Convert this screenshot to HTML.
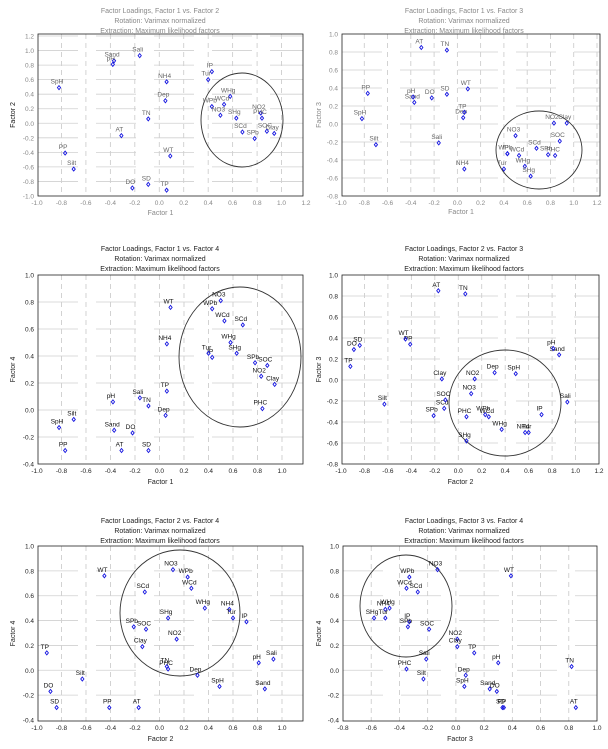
<!DOCTYPE html>
<html><head><meta charset="utf-8"><style>
html,body{margin:0;padding:0;background:#fff;}
svg{display:block;font-family:"Liberation Sans",sans-serif;}
</style></head><body>
<svg id="chart" width="608" height="749" viewBox="0 0 608 749"></svg>
<script>
const variables=["Sali","Sand","pH","SpH","NH4","IP","Tur","Dep","TN","AT","PP","Silt","WT","DO","SD","TP","WHg","WCd","WPb","NO3","SHg","NO2","PHC","SCd","SPb","SOC","Clay"];
const factor1=[-0.16,-0.37,-0.38,-0.82,0.06,0.43,0.40,0.05,-0.09,-0.31,-0.77,-0.70,0.09,-0.22,-0.09,0.06,0.58,0.53,0.43,0.50,0.63,0.83,0.84,0.68,0.78,0.88,0.94];
const factor2=[0.93,0.86,0.81,0.49,0.57,0.71,0.60,0.31,0.06,-0.17,-0.41,-0.63,-0.45,-0.89,-0.84,-0.92,0.37,0.26,0.23,0.11,0.07,0.14,0.07,-0.12,-0.21,-0.11,-0.14];
const factor3=[-0.21,0.24,0.30,0.06,-0.50,-0.33,-0.50,0.07,0.82,0.85,0.34,-0.23,0.39,0.29,0.33,0.13,-0.47,-0.35,-0.33,-0.13,-0.58,0.01,-0.35,-0.27,-0.34,-0.19,0.01];
const factor4=[0.09,-0.15,0.06,-0.13,0.49,0.39,0.42,-0.04,0.03,-0.30,-0.30,-0.07,0.76,-0.17,-0.30,0.14,0.50,0.66,0.75,0.81,0.42,0.25,0.01,0.63,0.35,0.33,0.19];
const factors={1:factor1,2:factor2,3:factor3,4:factor4};
const panels=[
 {fx:1,fy:2,x0:-1.0,x1:1.2,px0:37,px1:306,y0:-1.0,y1:1.2,py0:196,py1:36,xt:[-1.0,-0.8,-0.6,-0.4,-0.2,0.0,0.2,0.4,0.6,0.8,1.0,1.2],yt:[-1.0,-0.8,-0.6,-0.4,-0.2,0.0,0.2,0.4,0.6,0.8,1.0,1.2],fl:38,fr:303,ft:34,fb:196,cx:242,cy:120,rx:41,ry:47,tx:160,ty:8,tc:"#888",xl:215,yl:15,ycl:"#111"},
 {fx:1,fy:3,x0:-1.0,x1:1.2,px0:341,px1:597,y0:-0.8,y1:1.0,py0:196,py1:34,xt:[-1.0,-0.8,-0.6,-0.4,-0.2,0.0,0.2,0.4,0.6,0.8,1.0,1.2],yt:[-0.8,-0.6,-0.4,-0.2,0.0,0.2,0.4,0.6,0.8,1.0],fl:342,fr:600,ft:34,fb:196,cx:539,cy:150,rx:43,ry:39,tx:464,ty:8,tc:"#888",xl:214,yl:321,ycl:"#888"},
 {fx:1,fy:4,x0:-1.0,x1:1.0,px0:37,px1:282,y0:-0.4,y1:1.0,py0:464,py1:275,xt:[-1.0,-0.8,-0.6,-0.4,-0.2,0.0,0.2,0.4,0.6,0.8,1.0],yt:[-0.4,-0.2,0.0,0.2,0.4,0.6,0.8,1.0],fl:38,fr:303,ft:275,fb:464,cx:240,cy:357,rx:61,ry:70,tx:160,ty:246,tc:"#222",xl:484,yl:15,ycl:"#222"},
 {fx:2,fy:3,x0:-1.0,x1:1.2,px0:341,px1:599,y0:-0.8,y1:1.0,py0:464,py1:275,xt:[-1.0,-0.8,-0.6,-0.4,-0.2,0.0,0.2,0.4,0.6,0.8,1.0,1.2],yt:[-0.8,-0.6,-0.4,-0.2,0.0,0.2,0.4,0.6,0.8,1.0],fl:342,fr:599,ft:275,fb:464,cx:505,cy:403,rx:56,ry:53,tx:464,ty:246,tc:"#222",xl:484,yl:321,ycl:"#222"},
 {fx:2,fy:4,x0:-1.0,x1:1.0,px0:37,px1:282,y0:-0.4,y1:1.0,py0:720,py1:546,xt:[-1.0,-0.8,-0.6,-0.4,-0.2,0.0,0.2,0.4,0.6,0.8,1.0],yt:[-0.4,-0.2,0.0,0.2,0.4,0.6,0.8,1.0],fl:38,fr:303,ft:546,fb:721,cx:180,cy:613,rx:60,ry:63,tx:160,ty:518,tc:"#222",xl:741,yl:15,ycl:"#222"},
 {fx:3,fy:4,x0:-0.8,x1:1.0,px0:343,px1:597,y0:-0.4,y1:1.0,py0:720,py1:546,xt:[-0.8,-0.6,-0.4,-0.2,0.0,0.2,0.4,0.6,0.8,1.0],yt:[-0.4,-0.2,0.0,0.2,0.4,0.6,0.8,1.0],fl:343,fr:597,ft:546,fb:721,cx:406,cy:606,rx:46,ry:51,tx:464,ty:518,tc:"#222",xl:741,yl:321,ycl:"#222"}
];
const NS="http://www.w3.org/2000/svg";
const svg=document.getElementById("chart");
function mk(tag,attrs,parent){const e=document.createElementNS(NS,tag);for(const k in attrs)e.setAttribute(k,attrs[k]);(parent||svg).appendChild(e);return e;}
panels.forEach((p,i)=>{
 const g=mk("g",{});
 
 
 const sx=v=>p.px0+(v-p.x0)/(p.x1-p.x0)*(p.px1-p.px0);
 const sy=v=>p.py0+(v-p.y0)/(p.y1-p.y0)*(p.py1-p.py0);
 const titles=["Factor Loadings, Factor "+p.fx+" vs. Factor "+p.fy,"Rotation: Varimax normalized","Extraction: Maximum likelihood factors"];
 titles.forEach((t,k)=>{const e=mk("text",{x:p.tx,y:p.ty+k*10+5,"font-size":"7","text-anchor":"middle",fill:p.tc},g);e.textContent=t;
  
  });
 p.xt.forEach(v=>{const x=sx(v);
  if(x>p.fl+1&&x<p.fr-1){const l=mk("line",{x1:x,x2:x,y1:p.ft,y2:p.fb,stroke:"#c8c8c8","stroke-width":"0.8","stroke-dasharray":"5,4"},g);
   
   }
  const t=mk("text",{x:x,y:p.fb+9,"font-size":"6.5","text-anchor":"middle",fill:p.tc},g);t.textContent=v.toFixed(1);
  
  });
 p.yt.forEach(v=>{const y=sy(v);
  if(y>p.ft+1&&y<p.fb-1){const l=mk("line",{x1:p.fl,x2:p.fr,y1:y,y2:y,stroke:"#d0d0d0","stroke-width":"0.8","stroke-dasharray":"40,18"},g);
   
   }
  const t=mk("text",{x:p.fl-4,y:y+2.5,"font-size":"6.5","text-anchor":"end",fill:p.tc},g);t.textContent=v.toFixed(1);
  
  });
 const fr=mk("rect",{x:p.fl,y:p.ft,width:p.fr-p.fl,height:p.fb-p.ft,fill:"none",stroke:"#222","stroke-width":"0.8"},g);
 
 
 const xl=mk("text",{x:(p.fl+p.fr)/2-10,y:p.xl,"font-size":"7","text-anchor":"middle",fill:p.tc},g);xl.textContent="Factor "+p.fx;
 
 
 const yc=(p.ft+p.fb)/2;
 const yl=mk("text",{x:p.yl,y:yc,"font-size":"7","text-anchor":"middle",fill:p.ycl,transform:"rotate(-90 "+p.yl+" "+yc+")"},g);yl.textContent="Factor "+p.fy;
 
 
 const el=mk("ellipse",{cx:p.cx,cy:p.cy,rx:p.rx,ry:p.ry,fill:"none",stroke:"#333","stroke-width":"0.9"},g);
 
 
 const X=factors[p.fx],Y=factors[p.fy];
 variables.forEach((n,j)=>{const x=sx(X[j]),y=sy(Y[j]);
  const d=mk("path",{d:`M${x} ${y-2}L${x+1.6} ${y}L${x} ${y+2}L${x-1.6} ${y}Z`,fill:"none",stroke:"#1515e0","stroke-width":"0.9"},g);
  
  
  const t=mk("text",{x:x-2,y:y-4,"font-size":"6.5","text-anchor":"middle",fill:i<2?"#666":"#111"},g);t.textContent=n;
  
  });
});
</script>
</body></html>
